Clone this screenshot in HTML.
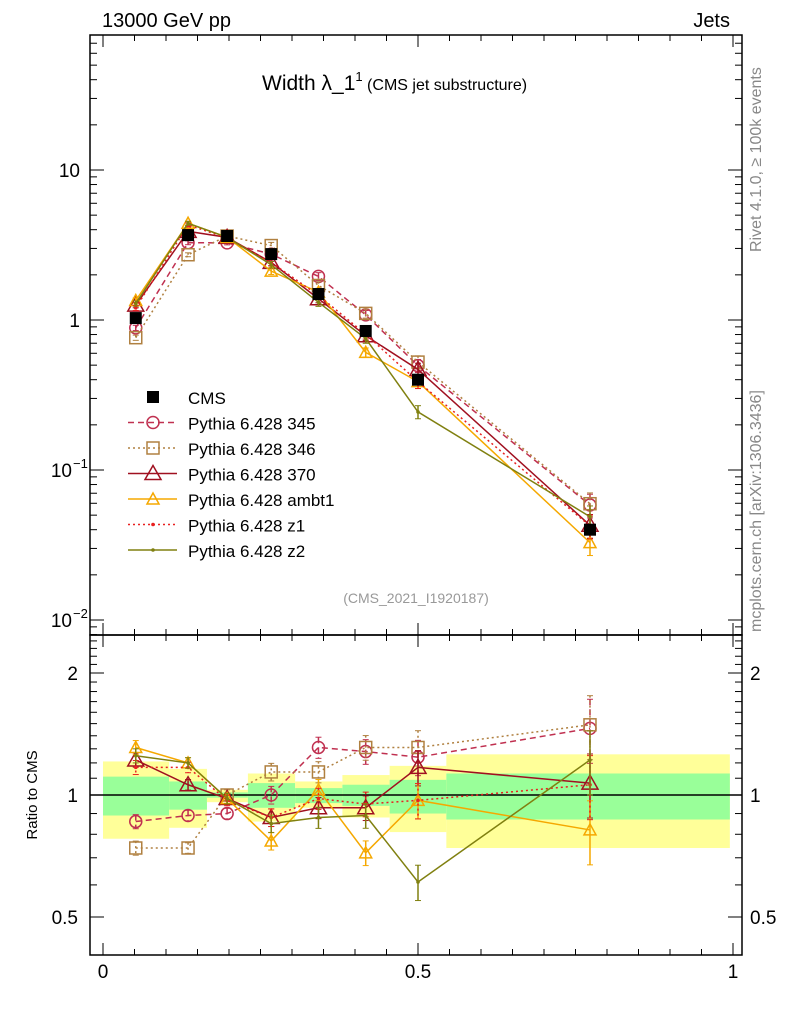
<!DOCTYPE html>
<html><head><meta charset="utf-8">
<style>
body{margin:0;background:#fff;}
svg{display:block;font-family:"Liberation Sans",sans-serif;}
</style></head>
<body>
<svg id="chart" width="786" height="1024" viewBox="0 0 786 1024" xmlns="http://www.w3.org/2000/svg">
<text x="102" y="27" font-size="20">13000 GeV pp</text>
<text x="730" y="27" font-size="20" text-anchor="end">Jets</text>
<text x="262" y="90" font-size="21">Width λ_1<tspan font-size="13" dy="-9">1</tspan><tspan font-size="16" dy="9"> (CMS jet substructure)</tspan></text>
<text transform="translate(761,252) rotate(-90)" font-size="16" fill="#888">Rivet 4.1.0, ≥ 100k events</text>
<text transform="translate(761,632) rotate(-90)" font-size="16" fill="#888">mcplots.cern.ch [arXiv:1306.3436]</text>
<text x="416" y="603" font-size="14" fill="#999" text-anchor="middle">(CMS_2021_I1920187)</text>
<text transform="translate(37,795) rotate(-90)" font-size="15" text-anchor="middle">Ratio to CMS</text>
<g id="bands"></g>
<g id="grid"></g>
<g id="series"></g>
<g id="legend"></g>
</svg>
<script>
const xCenters=[0.052,0.135,0.197,0.267,0.342,0.417,0.5,0.773];
const binEdges=[0,0.105,0.165,0.23,0.305,0.38,0.455,0.545,0.995];
const cmsValues=[1.03,3.68,3.63,2.75,1.49,0.845,0.40,0.040];
const statHi=[1.11,1.08,1.015,1.07,1.04,1.06,1.09,1.13];
const statLo=[0.89,0.92,0.985,0.93,0.955,0.94,0.9,0.87];
const totHi=[1.21,1.16,1.03,1.13,1.08,1.12,1.18,1.26];
const totLo=[0.78,0.83,0.96,0.86,0.93,0.88,0.81,0.74];
const r345=[0.86,0.89,0.9,1.0,1.31,1.28,1.24,1.46];
const r346=[0.74,0.74,1.0,1.14,1.14,1.31,1.31,1.49];
const r370=[1.22,1.06,0.98,0.88,0.93,0.93,1.17,1.07];
const rAmbt1=[1.31,1.2,0.98,0.77,1.03,0.72,0.97,0.82];
const rZ1=[1.17,1.17,0.97,0.88,0.98,0.95,0.97,1.06];
const rZ2=[1.25,1.2,0.98,0.85,0.88,0.89,0.61,1.22];
const relErr=[0.04,0.03,0.03,0.05,0.06,0.07,0.1,0.18];
const ratioTickLabels=["2","1","0.5"];
const xTickLabels=["0","0.5","1"];

const NS="http://www.w3.org/2000/svg";
const X0=90,X1=742,YT=35,YM=635,YB=955;
const sx=v=>103+630*v;
const sy=v=>320-150*Math.log10(v);
const sr=r=>795-122*Math.log2(r);
function mk(tag,attrs,parent){const e=document.createElementNS(NS,tag);for(const k in attrs)e.setAttribute(k,attrs[k]);parent.appendChild(e);return e;}
const bands=document.getElementById('bands'),grid=document.getElementById('grid'),ser=document.getElementById('series'),leg=document.getElementById('legend');

for(let i=0;i<8;i++){
  const a=sx(binEdges[i]),b=sx(binEdges[i+1]);
  const y=mk('rect',{x:a,y:sr(totHi[i]),width:b-a,height:sr(totLo[i])-sr(totHi[i]),fill:'#ffff99'},bands);
  
  
  const g=mk('rect',{x:a,y:sr(statHi[i]),width:b-a,height:sr(statLo[i])-sr(statHi[i]),fill:'#99ff99'},bands);
  
  
}
const one=mk('line',{x1:X0,x2:X1,y1:sr(1),y2:sr(1),stroke:'#000','stroke-width':1.5},grid);



const f1=mk('rect',{x:X0,y:YT,width:X1-X0,height:YM-YT,fill:'none',stroke:'#000','stroke-width':1.5},grid);


const f2=mk('rect',{x:X0,y:YM,width:X1-X0,height:YB-YM,fill:'none',stroke:'#000','stroke-width':1.5},grid);



for(let k=0;k<=20;k++){const v=k*0.05,x=sx(v),L=(k%10==0)?12:6;
  for(const yb of [YM,YB]){mk('line',{x1:x,x2:x,y1:yb,y2:yb-L,stroke:'#000'},grid);}
  mk('line',{x1:x,x2:x,y1:YT,y2:YT+L,stroke:'#000'},grid);
  mk('line',{x1:x,x2:x,y1:YM,y2:YM+L,stroke:'#000'},grid);}
xTickLabels.forEach((t,i)=>{const e=mk('text',{x:sx(i*0.5),y:978,'font-size':19,'text-anchor':'middle'},grid);e.textContent=t;
  
  });
for(let d=-3;d<=2;d++){for(let m=1;m<10;m++){const v=m*Math.pow(10,d),y=sy(v);if(y<YT||y>YM)continue;const L=m==1?14:7;
  mk('line',{x1:X0,x2:X0+L,y1:y,y2:y,stroke:'#000'},grid);mk('line',{x1:X1,x2:X1-L,y1:y,y2:y,stroke:'#000'},grid);}}
[[10,"10",""],[1,"1",""],[0.1,"10","−1"],[0.01,"10","−2"]].forEach(([v,b,s])=>{
  const e=mk('text',{x:s?72:80,y:sy(v)+7,'font-size':19,'text-anchor':'end'},grid);e.textContent=b;
  
  
  if(s){const t=mk('text',{x:73,y:sy(v)-2,'font-size':13},grid);t.textContent=s;}});
for(let k=3;k<=25;k++){const r=k/10;const y=sr(r);if(y<YM||y>YB)continue;const L=(k==5||k==10||k==20)?14:7;
  mk('line',{x1:X0,x2:X0+L,y1:y,y2:y,stroke:'#000'},grid);mk('line',{x1:X1,x2:X1-L,y1:y,y2:y,stroke:'#000'},grid);}
[2,1,0.5].forEach((r,i)=>{for(const [x,a] of [[78,'end'],[750,'start']]){const e=mk('text',{x:x,y:sr(r)+7,'font-size':19,'text-anchor':a},grid);e.textContent=ratioTickLabels[i];
  
  }});

const series=[
 {name:'Pythia 6.428 345',r:r345,c:'#c03050',dash:'6,4',m:'circle'},
 {name:'Pythia 6.428 346',r:r346,c:'#b08040',dash:'2,3',m:'square'},
 {name:'Pythia 6.428 370',r:r370,c:'#a01020',dash:'',m:'tri'},
 {name:'Pythia 6.428 ambt1',r:rAmbt1,c:'#f5a800',dash:'',m:'tris'},
 {name:'Pythia 6.428 z1',r:rZ1,c:'#e82020',dash:'2,3',m:'dot'},
 {name:'Pythia 6.428 z2',r:rZ2,c:'#808010',dash:'',m:'dot'}];
function marker(m,x,y,c,p){
  if(m=='circle')return mk('circle',{cx:x,cy:y,r:6,fill:'none',stroke:c,'stroke-width':1.5},p);
  if(m=='square')return mk('rect',{x:x-6,y:y-6,width:12,height:12,fill:'none',stroke:c,'stroke-width':1.5},p);
  if(m=='tri')return mk('polygon',{points:`${x},${y-8} ${x-8},${y+6} ${x+8},${y+6}`,fill:'none',stroke:c,'stroke-width':1.5},p);
  if(m=='tris')return mk('polygon',{points:`${x},${y-6} ${x-6},${y+5} ${x+6},${y+5}`,fill:'none',stroke:c,'stroke-width':1.5},p);
  return mk('circle',{cx:x,cy:y,r:1.8,fill:c},p);
}
series.forEach((s,si)=>{
  const g=mk('g',{},ser);
  
  
  const mainPts=xCenters.map((x,i)=>[sx(x),sy(cmsValues[i]*s.r[i])]);
  const ratPts=xCenters.map((x,i)=>[sx(x),sr(s.r[i])]);
  for(const [pts,fn,val] of [[mainPts,sy,i=>cmsValues[i]*s.r[i]],[ratPts,sr,i=>s.r[i]]]){
    mk('polyline',{points:pts.map(p=>p.join(',')).join(' '),fill:'none',stroke:s.c,'stroke-width':1.5,'stroke-dasharray':s.dash},g);
    pts.forEach((p,i)=>{const v=val(i),e=relErr[i];
      mk('line',{x1:p[0],x2:p[0],y1:fn(v*(1+e)),y2:fn(v*(1-e)),stroke:s.c,'stroke-width':1.5,'stroke-dasharray':s.dash},g);
      mk('line',{x1:p[0]-3,x2:p[0]+3,y1:fn(v*(1+e)),y2:fn(v*(1+e)),stroke:s.c},g);
      mk('line',{x1:p[0]-3,x2:p[0]+3,y1:fn(v*(1-e)),y2:fn(v*(1-e)),stroke:s.c},g);
      const mm=marker(s.m,p[0],p[1],s.c,g);
      
      });
  }
});
xCenters.forEach((x,i)=>{const r=mk('rect',{x:sx(x)-6,y:sy(cmsValues[i])-6,width:12,height:12,fill:'#000'},ser);
  
  });
const ly=397,dy=25.5;
const lc=mk('rect',{x:147,y:ly-6,width:12,height:12,fill:'#000'},leg);


const lt=mk('text',{x:188,y:ly+7,'font-size':17},leg);lt.textContent='CMS';


series.forEach((s,i)=>{const y=ly+dy*(i+1);
  mk('line',{x1:128,x2:177,y1:y,y2:y,stroke:s.c,'stroke-width':1.5,'stroke-dasharray':s.dash},leg);
  marker(s.m,153,y,s.c,leg);
  const t=mk('text',{x:188,y:y+7,'font-size':17},leg);t.textContent=s.name;
  
  });
</script>
</body></html>
